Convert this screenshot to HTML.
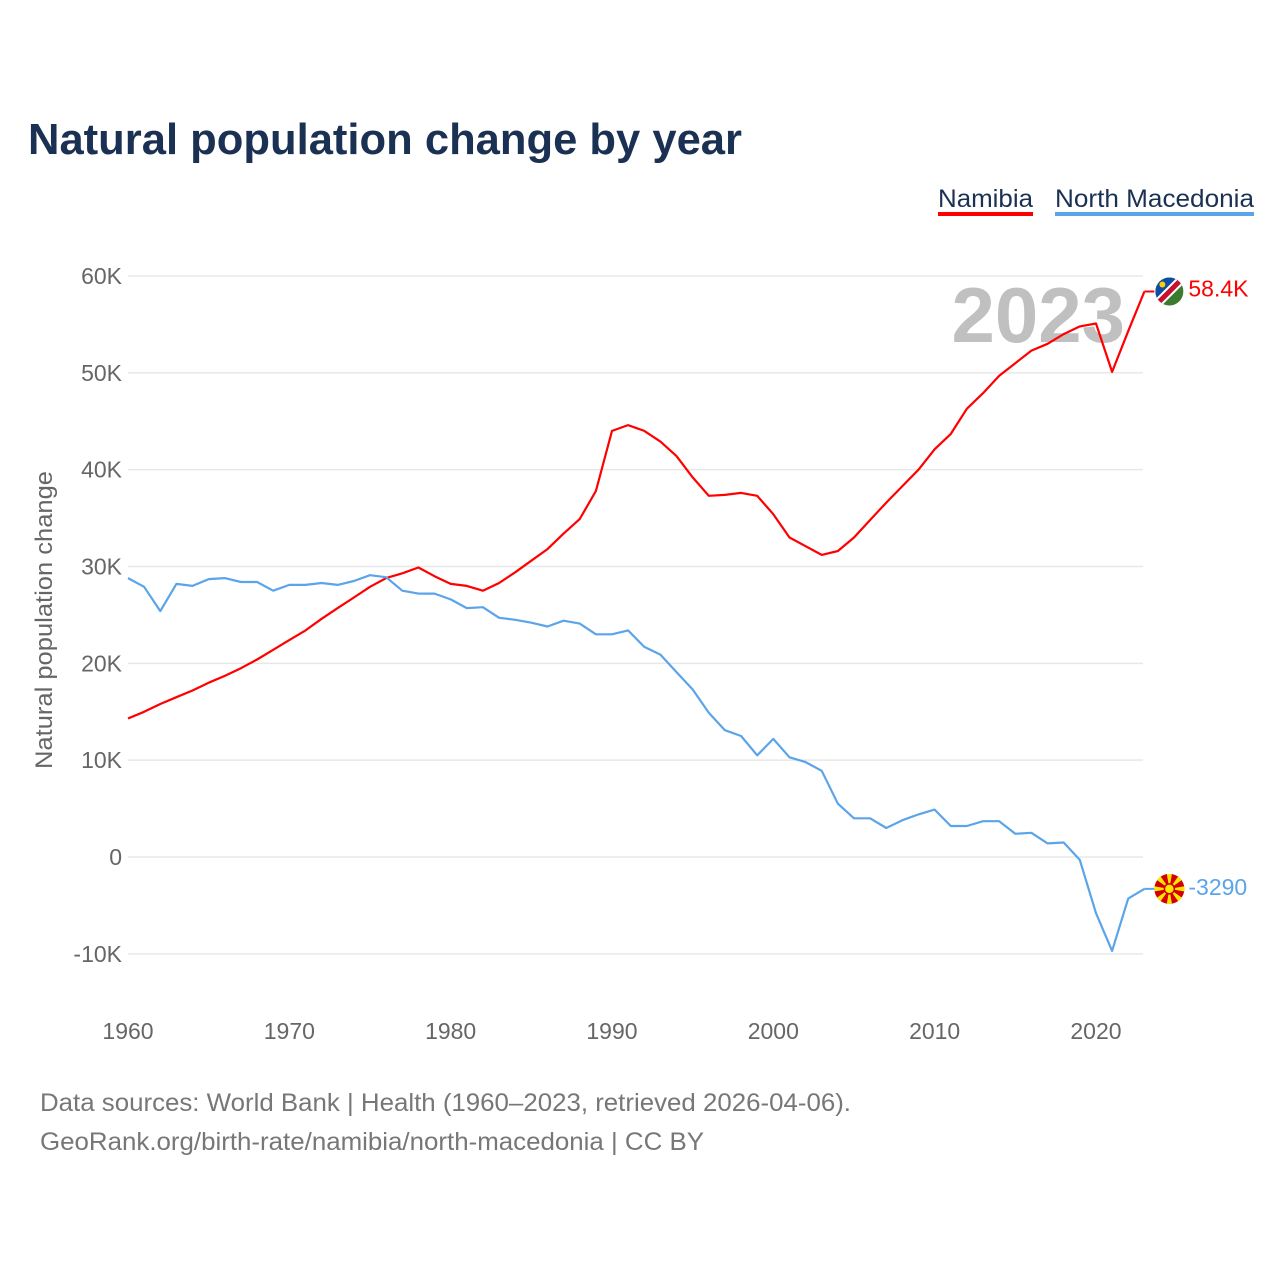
<!DOCTYPE html>
<html><head><meta charset="utf-8"><style>
body{margin:0;background:#fff;}
svg{display:block;font-family:"Liberation Sans",sans-serif;}
</style></head><body>
<svg width="1280" height="1280" viewBox="0 0 1280 1280">
<text x="28" y="154" font-size="44" font-weight="bold" fill="#1b3153" textLength="714" lengthAdjust="spacingAndGlyphs">Natural population change by year</text>
<g>
<text x="938" y="207" font-size="25" fill="#1b3153" textLength="95" lengthAdjust="spacingAndGlyphs">Namibia</text>
<rect x="938" y="212" width="95" height="4" fill="#ff0000"/>
<text x="1055" y="207" font-size="25" fill="#1b3153" textLength="199" lengthAdjust="spacingAndGlyphs">North Macedonia</text>
<rect x="1055" y="212" width="199" height="4" fill="#5ba4ea"/>
</g>
<g id="grid"></g>
<g id="yticks"></g>
<g id="xticks"></g>
<text x="1125" y="342" font-size="78" font-weight="bold" fill="#c0c0c0" text-anchor="end">2023</text>
<text transform="translate(52,620) rotate(-90)" font-size="24" fill="#666" text-anchor="middle" textLength="298" lengthAdjust="spacingAndGlyphs">Natural population change</text>
<g id="series"></g>
<text x="40" y="1111" font-size="25" fill="#777" textLength="811" lengthAdjust="spacingAndGlyphs">Data sources: World Bank | Health (1960–2023, retrieved 2026-04-06).</text>
<text x="40" y="1150" font-size="25" fill="#777" textLength="664" lengthAdjust="spacingAndGlyphs">GeoRank.org/birth-rate/namibia/north-macedonia | CC BY</text>
</svg>
<script>
const years = Array.from({length:64},(_, i)=>1960+i);
const namibia = [14.3,15.0,15.8,16.5,17.2,18.0,18.7,19.5,20.4,21.4,22.4,23.4,24.6,25.7,26.8,27.9,28.8,29.3,29.9,29.0,28.2,28.0,27.5,28.3,29.4,30.6,31.8,33.4,34.9,37.8,44.0,44.6,44.0,42.9,41.4,39.2,37.3,37.4,37.6,37.3,35.4,33.0,32.1,31.2,31.6,33.0,34.8,36.6,38.3,40.0,42.1,43.7,46.3,47.9,49.7,51.0,52.3,53.0,54.0,54.8,55.1,50.1,54.3,58.4];
const macedonia = [28.8,27.9,25.4,28.2,28.0,28.7,28.8,28.4,28.4,27.5,28.1,28.1,28.3,28.1,28.5,29.1,28.9,27.5,27.2,27.2,26.6,25.7,25.8,24.7,24.5,24.2,23.8,24.4,24.1,23.0,23.0,23.4,21.7,20.9,19.1,17.3,14.9,13.1,12.5,10.5,12.2,10.3,9.8,8.9,5.5,4.0,4.0,3.0,3.8,4.4,4.9,3.2,3.2,3.7,3.7,2.4,2.5,1.4,1.5,-0.3,-5.8,-9.7,-4.3,-3.29];
const yTicks = [-10,0,10,20,30,40,50,60];
const yTickLabels = ["-10K","0","10K","20K","30K","40K","50K","60K"];
const xTicks = [1960,1970,1980,1990,2000,2010,2020];
const endLabels = ["58.4K","-3290"];

const NS="http://www.w3.org/2000/svg";
const X = y => 128 + (y-1960)*16.133;
const Y = v => 857 - v*9.683;
function mk(tag, attrs, parent){const e=document.createElementNS(NS,tag);for(const k in attrs)e.setAttribute(k,attrs[k]);parent.appendChild(e);return e;}
const grid=document.getElementById('grid'), yt=document.getElementById('yticks'), xt=document.getElementById('xticks'), ser=document.getElementById('series');
yTicks.forEach((v,i)=>{
  const l=mk('line',{x1:128,x2:1143,y1:Y(v),y2:Y(v),stroke:'#e8e8e8','stroke-width':1.5},grid);
  
  
  const t=mk('text',{x:122,y:Y(v)+8,'font-size':23,fill:'#666','text-anchor':'end'},yt);
  t.textContent=yTickLabels[i];
  
  
});
xTicks.forEach(v=>{
  const t=mk('text',{x:X(v),y:1039,'font-size':23,fill:'#666','text-anchor':'middle'},xt);
  t.textContent=v;
  
  
});
function line(vals,color,name){
  const d=vals.map((v,i)=>(i?'L':'M')+X(years[i]).toFixed(1)+' '+Y(v).toFixed(1)).join(' ');
  const p=mk('path',{d:d,fill:'none',stroke:color,'stroke-width':2.2,'stroke-linejoin':'round'},ser);
  
  
  const lx=X(years[vals.length-1]), ly=Y(vals[vals.length-1]);
  const s=mk('line',{x1:lx,x2:lx+10,y1:ly,y2:ly,stroke:color,'stroke-width':2},ser);
  
  
  return [lx,ly];
}
const [nx,ny]=line(namibia,'#ff0000','namibia-line');
const [mx,my]=line(macedonia,'#5ba4ea','north-macedonia-line');
const fg=mk('g',{},ser);


const cx=nx+25, cy=ny;
mk('defs',{},fg).innerHTML='<clipPath id="cn"><circle cx="'+cx+'" cy="'+cy+'" r="14"/></clipPath><clipPath id="cm"><circle cx="'+(mx+25)+'" cy="'+my+'" r="15"/></clipPath>';
const fn=mk('g',{'clip-path':'url(#cn)'},fg);
mk('rect',{x:cx-14,y:cy-14,width:28,height:28,fill:'#3b7b2c'},fn);
mk('polygon',{points:(cx-14)+','+(cy-14)+' '+(cx+14)+','+(cy-14)+' '+(cx-14)+','+(cy+14),fill:'#0b4ea2'},fn);
mk('line',{x1:cx-14,y1:cy+14,x2:cx+14,y2:cy-14,stroke:'#fff','stroke-width':9},fn);
mk('line',{x1:cx-14,y1:cy+14,x2:cx+14,y2:cy-14,stroke:'#c8102e','stroke-width':5},fn);
mk('circle',{cx:cx-7,cy:cy-7,r:3,fill:'#ffce00'},fn);
const t1=mk('text',{x:nx+44,y:ny+5,'font-size':23,fill:'#ff0000'},ser);
t1.textContent=endLabels[0];


const mg=mk('g',{'clip-path':'url(#cm)'},ser);


const mcx=mx+25;
mk('rect',{x:mcx-15,y:my-15,width:30,height:30,fill:'#d20000'},mg);
for(let a=0;a<8;a++){const ang=a*Math.PI/4;mk('polygon',{points:mcx+','+my+' '+(mcx+20*Math.cos(ang-0.17))+','+(my+20*Math.sin(ang-0.17))+' '+(mcx+20*Math.cos(ang+0.17))+','+(my+20*Math.sin(ang+0.17)),fill:'#ffe600'},mg);}
mk('circle',{cx:mcx,cy:my,r:5,fill:'#ffe600',stroke:'#d20000','stroke-width':1.5},mg);
const t2=mk('text',{x:mx+44,y:my+6,'font-size':23,fill:'#5ba4ea'},ser);
t2.textContent=endLabels[1];


</script>
</body></html>
